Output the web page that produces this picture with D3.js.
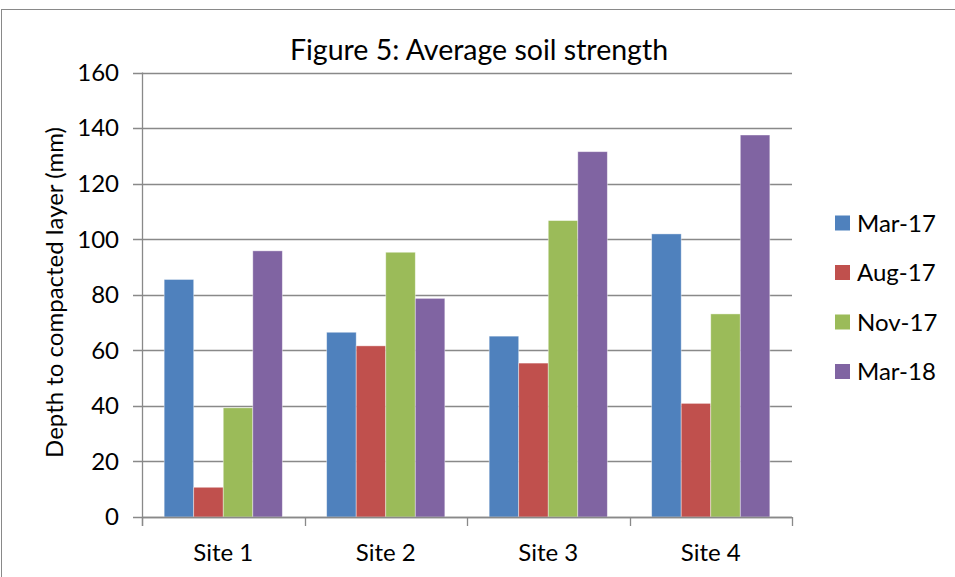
<!DOCTYPE html>
<html>
<head>
<meta charset="utf-8">
<script src="https://cdn.jsdelivr.net/npm/d3@7"></script>
<style>
  body { margin: 0; background: #fff; }
  svg text { font-family: Lato, "Liberation Sans", sans-serif; fill: #000; }
</style>
</head>
<body>
<div id="chart"></div>
<script>
// data
const sites = ["Site 1", "Site 2", "Site 3", "Site 4"];
const seriesNames = ["Mar-17", "Aug-17", "Nov-17", "Mar-18"];
const mar17 = [85.5, 66.5, 65.1, 101.9];
const aug17 = [10.7, 61.6, 55.4, 40.9];
const nov17 = [39.3, 95.3, 106.7, 73.1];
const mar18 = [95.8, 78.7, 131.5, 137.5];
const yTicks = [0, 20, 40, 60, 80, 100, 120, 140, 160];
const colors = ["#4F81BD", "#C0504D", "#9BBB59", "#8064A2"];

const values = [mar17, aug17, nov17, mar18];

const W = 955, H = 577;
const plot = { left: 142, right: 792, top: 72.5, bottom: 517 };

const svg = d3.select("#chart")
    .append("svg")
    .attr("width", W)
    .attr("height", H);

// chart border
svg.append("rect")
    .attr("x", 1.5).attr("y", 9.5)
    .attr("width", W + 10).attr("height", H + 10)
    .attr("fill", "none")
    .attr("stroke", "#898989")
    .attr("stroke-width", 1);

const x = d3.scaleBand().domain(sites).range([plot.left, plot.right]);
// Excel style: gap width 150%
const barW = x.bandwidth() / (seriesNames.length + 1.5);
const x1 = d3.scaleBand().domain(seriesNames)
    .range([0, barW * seriesNames.length]);

const y = d3.scaleLinear().domain([0, 160]).range([plot.bottom, plot.top]);

// gridlines
svg.append("g")
    .selectAll("line")
    .data(yTicks)
    .enter().append("line")
    .attr("x1", plot.left - 9)
    .attr("x2", plot.right)
    .attr("y1", d => Math.round(y(d)) + 0.5)
    .attr("y2", d => Math.round(y(d)) + 0.5)
    .attr("stroke", "#898989")
    .attr("stroke-width", 1.3);

// y tick labels
svg.append("g")
    .selectAll("text")
    .data(yTicks)
    .enter().append("text")
    .attr("x", 119)
    .attr("y", d => y(d))
    .attr("dy", "0.35em")
    .attr("text-anchor", "end")
    .style("font-size", "24px")
    .text(d => d);

// bars
const groups = svg.append("g")
    .selectAll("g")
    .data(sites)
    .enter().append("g")
    .attr("transform", d => `translate(${x(d) + barW * 0.75},0)`);

groups.selectAll("rect")
    .data((d, i) => seriesNames.map((s, j) => ({ s: s, j: j, v: values[j][i] })))
    .enter().append("rect")
    .attr("x", d => x1(d.s))
    .attr("width", x1.bandwidth())
    .attr("y", d => y(d.v))
    .attr("height", d => y(0) - y(d.v))
    .attr("fill", d => colors[d.j])
    .attr("stroke", "rgba(255,255,255,0.5)")
    .attr("stroke-width", 0.8);

// axes lines
svg.append("line")
    .attr("x1", plot.left + 0.5).attr("x2", plot.left + 0.5)
    .attr("y1", plot.top).attr("y2", plot.bottom + 9)
    .attr("stroke", "#898989").attr("stroke-width", 1.3);

svg.append("line")
    .attr("x1", plot.left).attr("x2", plot.right)
    .attr("y1", Math.round(y(0)) + 0.5).attr("y2", Math.round(y(0)) + 0.5)
    .attr("stroke", "#898989").attr("stroke-width", 1.3);

// x ticks at category boundaries
const bounds = sites.map(s => x(s)).concat([plot.right]);
svg.append("g")
    .selectAll("line")
    .data(bounds)
    .enter().append("line")
    .attr("x1", d => Math.round(d) + 0.5)
    .attr("x2", d => Math.round(d) + 0.5)
    .attr("y1", plot.bottom)
    .attr("y2", plot.bottom + 9)
    .attr("stroke", "#898989").attr("stroke-width", 1.3);

// x labels
svg.append("g")
    .selectAll("text")
    .data(sites)
    .enter().append("text")
    .attr("x", d => x(d) + x.bandwidth() / 2)
    .attr("y", 561)
    .attr("text-anchor", "middle")
    .style("font-size", "24px")
    .text(d => d);

// title
svg.append("text")
    .attr("x", 479)
    .attr("y", 60)
    .attr("text-anchor", "middle")
    .style("font-size", "28.5px")
    .text("Figure 5: Average soil strength");

// y axis title
svg.append("text")
    .attr("transform", "translate(63,292.5) rotate(-90)")
    .attr("text-anchor", "middle")
    .style("font-size", "24px")
    .text("Depth to compacted layer (mm)");

// legend
const legend = svg.append("g")
    .selectAll("g")
    .data(seriesNames)
    .enter().append("g")
    .attr("transform", (d, i) => `translate(835,${223 + i * 49.5})`);

legend.append("rect")
    .attr("x", 0).attr("y", -7.5)
    .attr("width", 15).attr("height", 15)
    .attr("fill", (d, i) => colors[i]);

legend.append("text")
    .attr("x", 22)
    .attr("y", 0)
    .attr("dy", "0.36em")
    .style("font-size", "24px")
    .text(d => d);
</script>
</body>
</html>
